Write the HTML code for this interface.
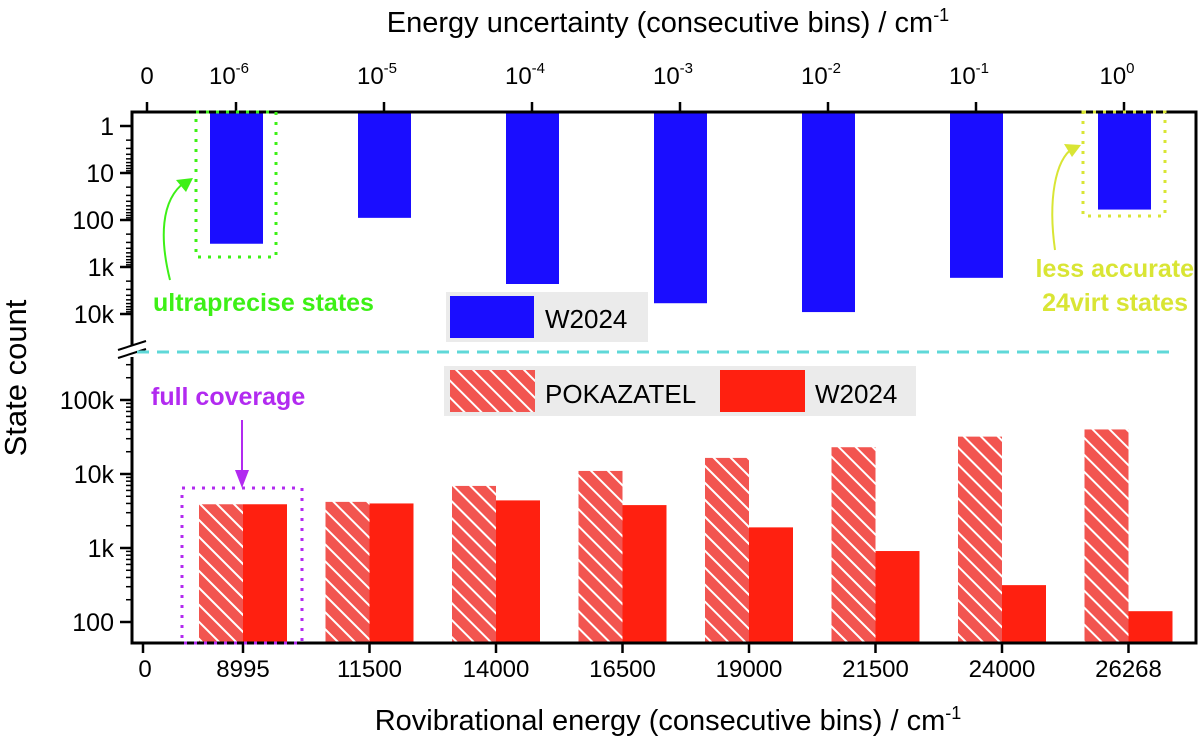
<!DOCTYPE html>
<html><head><meta charset="utf-8"><style>
body{margin:0;background:#fff}
svg{display:block;font-family:"Liberation Sans",sans-serif}
</style></head><body>
<svg id="chart" width="1200" height="742" viewBox="0 0 1200 742">
<defs>
<pattern id="hatch" patternUnits="userSpaceOnUse" width="12" height="12" patternTransform="rotate(-45)">
<rect width="12" height="12" fill="#f25550"/><rect x="0" y="0" width="2" height="12" fill="#fff"/>
</pattern>
</defs>
<g id="plot"></g>
</svg>
<script>
const topCats=['10^-6','10^-5','10^-4','10^-3','10^-2','10^-1','10^0'];
const topExp=['-6','-5','-4','-3','-2','-1','0'];
const topValues=[320,90,2300,5900,9100,1700,60];
const botCats=['8995','11500','14000','16500','19000','21500','24000','26268'];
const pokValues=[3900,4200,6900,11000,16500,23000,32000,40000];
const wValues=[3900,4000,4400,3800,1900,910,315,140];
const topTicks=['1','10','100','1k','10k'];
const botTicks=['100','1k','10k','100k'];

const NS='http://www.w3.org/2000/svg';
const g=document.getElementById('plot');
function el(t,a,txt){const e=document.createElementNS(NS,t);for(const k in a)e.setAttribute(k,a[k]);if(txt!==undefined)e.textContent=txt;g.appendChild(e);return e;}
const L=132,R=1196,T=112,B=643;
const yTop=v=>126+47*Math.log10(v);
const yBot=v=>622-74*(Math.log10(v)-2);
const xTop=i=>236+148*i;
const xBot=i=>243+126.5*i;

topValues.forEach((v,i)=>{
 const r=el('rect',{x:xTop(i)-26,y:T,width:53,height:yTop(v)-T,fill:'#1a0dff'});
 
 
});
botCats.forEach((c,i)=>{
 const p=el('rect',{x:xBot(i)-44,y:yBot(pokValues[i]),width:44,height:B-yBot(pokValues[i]),fill:'url(#hatch)'});
 
 
 const w=el('rect',{x:xBot(i),y:yBot(wValues[i]),width:44,height:B-yBot(wValues[i]),fill:'#ff2010'});
 
 
});
el('path',{d:`M${L} ${T}H${R}V${B}H${L}Z`,fill:'none',stroke:'#000','stroke-width':3});
el('rect',{x:124,y:345,width:16,height:12,fill:'#fff'});
el('path',{d:'M118 350L146 341M118 358L146 349',stroke:'#000','stroke-width':2});
el('line',{x1:137,y1:352,x2:1170,y2:352,stroke:'#5fd8d8','stroke-width':3,'stroke-dasharray':'12,8'});
el('line',{x1:147,y1:T,x2:147,y2:T-10,stroke:'#000','stroke-width':2.5});
el('text',{x:147,y:84,'font-size':24,'text-anchor':'middle'},'0');
topExp.forEach((e,i)=>{
 el('line',{x1:xTop(i),y1:T,x2:xTop(i),y2:T-10,stroke:'#000','stroke-width':2.5});
 const t=el('text',{x:xTop(i)-7,y:84,'font-size':24,'text-anchor':'middle'});
 t.innerHTML='10<tspan dy="-11" font-size="15">'+e+'</tspan>';
});
topTicks.forEach((s,i)=>{
 const y=126+47*i;
 el('line',{x1:L,y1:y,x2:L-12,y2:y,stroke:'#000','stroke-width':2.5});
 el('text',{x:114,y:y+9,'font-size':25,'text-anchor':'end'},s);
 if(i<4)for(let k=2;k<10;k++){const yy=y+47*Math.log10(k);el('line',{x1:L,y1:yy,x2:L-6,y2:yy,stroke:'#000','stroke-width':1.5});}
});
botTicks.forEach((s,i)=>{
 const y=622-74*i;
 el('line',{x1:L,y1:y,x2:L-12,y2:y,stroke:'#000','stroke-width':2.5});
 el('text',{x:114,y:y+9,'font-size':25,'text-anchor':'end'},s);
 for(let k=2;k<10;k++){const yy=y-74*Math.log10(k);if(yy>360)el('line',{x1:L,y1:yy,x2:L-6,y2:yy,stroke:'#000','stroke-width':1.5});}
});
el('line',{x1:143,y1:B,x2:143,y2:B+10,stroke:'#000','stroke-width':2.5});
el('text',{x:145,y:677,'font-size':24,'text-anchor':'middle'},'0');
botCats.forEach((c,i)=>{
 el('line',{x1:xBot(i),y1:B,x2:xBot(i),y2:B+10,stroke:'#000','stroke-width':2.5});
 el('text',{x:xBot(i),y:677,'font-size':24,'text-anchor':'middle'},c);
});
let t=el('text',{x:668,y:32,'font-size':29,'text-anchor':'middle'});t.innerHTML='Energy uncertainty (consecutive bins) / cm<tspan dy="-11" font-size="18">-1</tspan>';
t=el('text',{x:668,y:730,'font-size':29,'text-anchor':'middle'});t.innerHTML='Rovibrational energy (consecutive bins) / cm<tspan dy="-11" font-size="18">-1</tspan>';
el('text',{x:0,y:0,'font-size':31,'text-anchor':'middle',transform:'translate(26,378) rotate(-90)'},'State count');
el('rect',{x:446,y:292,width:202,height:50,fill:'#ebebeb'});
el('rect',{x:450,y:296,width:84,height:42,fill:'#1a0dff'});
el('text',{x:545,y:328,'font-size':26},'W2024');
el('rect',{x:444,y:366,width:472,height:50,fill:'#ebebeb'});
el('rect',{x:450,y:370,width:85,height:42,fill:'url(#hatch)'});
el('text',{x:545,y:403,'font-size':26},'POKAZATEL');
el('rect',{x:720,y:370,width:85,height:42,fill:'#ff2010'});
el('text',{x:815,y:403,'font-size':26},'W2024');
el('rect',{x:196,y:112,width:80,height:145,fill:'none',stroke:'#3df016','stroke-width':3,'stroke-dasharray':'3,7'});
el('path',{d:'M170 280C160 240 160 200 185 182',fill:'none',stroke:'#3df016','stroke-width':2});
el('path',{d:'M193 178L176 180L186 192Z',fill:'#3df016'});
el('text',{x:153,y:311,'font-size':25,'font-weight':'bold',fill:'#3df016'},'ultraprecise states');
el('rect',{x:1083,y:112,width:82,height:104,fill:'none',stroke:'#d9e534','stroke-width':3,'stroke-dasharray':'3,7'});
el('path',{d:'M1055 250C1048 200 1055 160 1073 148',fill:'none',stroke:'#d9e534','stroke-width':2});
el('path',{d:'M1081 145L1064 144L1072 157Z',fill:'#d9e534'});
el('text',{x:1194,y:277,'font-size':25,'font-weight':'bold',fill:'#d9e534','text-anchor':'end'},'less accurate');
el('text',{x:1188,y:311,'font-size':25,'font-weight':'bold',fill:'#d9e534','text-anchor':'end'},'24virt states');
el('rect',{x:182,y:488,width:120,height:155,fill:'none',stroke:'#b22af0','stroke-width':3,'stroke-dasharray':'3,7'});
el('line',{x1:242,y1:420,x2:242,y2:475,stroke:'#b22af0','stroke-width':2});
el('path',{d:'M235 470L249 470L242 488Z',fill:'#b22af0'});
el('text',{x:151,y:405,'font-size':25,'font-weight':'bold',fill:'#b22af0'},'full coverage');
</script>
</body></html>
